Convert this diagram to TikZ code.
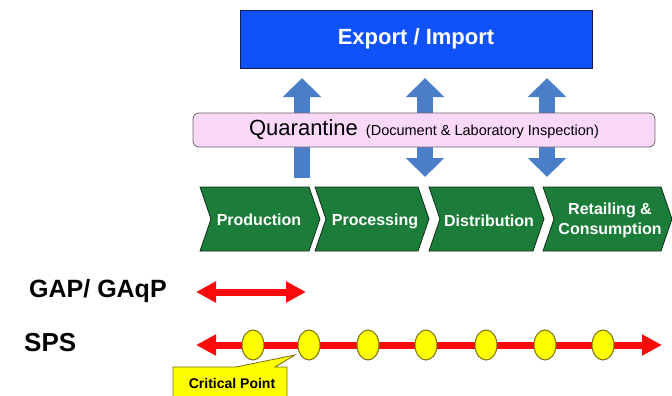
\documentclass[tikz,border=0pt]{standalone}
\usepackage{fontspec}
\setmainfont{Liberation Sans}
\usetikzlibrary{arrows.meta,shapes.geometric}
\definecolor{exblue}{RGB}{16,82,250}
\definecolor{exborder}{RGB}{20,30,90}
\definecolor{arblue}{RGB}{74,126,200}
\definecolor{qpink}{RGB}{250,216,248}
\definecolor{qborder}{RGB}{110,100,110}
\definecolor{chgreen}{RGB}{28,125,58}
\definecolor{chborder}{RGB}{20,45,25}
\definecolor{cpyellow}{RGB}{255,255,0}
\definecolor{cpborder}{RGB}{120,110,20}
\definecolor{redline}{RGB}{250,10,10}
\tikzset{
  bluetip/.tip={Triangle[width=37pt,length=19pt]},
  redtip/.tip={Triangle[width=20pt,length=20pt]},
  bluearrow/.style={draw=arblue, line width=16pt},
  redarrow/.style={draw=redline, line width=7pt},
  chev/.style={fill=chgreen, draw=chborder, line width=0.8pt},
  chevtext/.style={text=white, font=\bfseries\fontsize{16}{20}\selectfont, align=center},
  ccp/.style={ellipse, fill=cpyellow, draw=cpborder, line width=1pt, minimum width=22pt, minimum height=30pt, inner sep=0pt},
  rowlabel/.style={font=\bfseries\fontsize{25}{28}\selectfont, anchor=west, inner sep=0pt}
}
\begin{document}
\begin{tikzpicture}[x=1pt,y=-1pt]
\useasboundingbox (0,0) rectangle (672,396);
\fill[white] (0,0) rectangle (672,396);

% Export / Import box
\node[draw=exborder, fill=exblue, line width=0.8pt, minimum width=352pt, minimum height=58pt, inner sep=0pt,
      text=white, font=\bfseries\fontsize{22}{26}\selectfont] (export) at (416,39) {Export / Import};

% anchor points for arrows
\coordinate (a1b) at (302,178); \coordinate (a1t) at (302,78);
\coordinate (a2b) at (425,177); \coordinate (a2t) at (425,78);
\coordinate (a3b) at (547,177); \coordinate (a3t) at (547,78);

\draw[bluearrow, -bluetip] (a1b) -- (a1t);
\draw[bluearrow, bluetip-bluetip] (a2b) -- (a2t);
\draw[bluearrow, bluetip-bluetip] (a3b) -- (a3t);

% Quarantine box
\node[draw=qborder, fill=qpink, rounded corners=6pt, line width=0.8pt, minimum width=462pt, minimum height=34pt, inner sep=0pt]
  (quar) at (424,130) {\fontsize{22}{24}\selectfont Quarantine\hspace{8pt}\fontsize{14.5}{16}\selectfont(Document \& Laboratory Inspection)};

% Chevrons
\fill[chev] (200,187) -- (309,187) -- (320,219) -- (309,251) -- (200,251) -- (211,219) -- cycle;
\fill[chev] (315,187) -- (418,187) -- (429,219) -- (418,251) -- (315,251) -- (326,219) -- cycle;
\fill[chev] (429,187) -- (533,187) -- (544,219) -- (533,251) -- (429,251) -- (440,219) -- cycle;
\fill[chev] (543,187) -- (661,187) -- (672,219) -- (661,251) -- (543,251) -- (554,219) -- cycle;
\node[chevtext] (prod) at (259,220) {Production};
\node[chevtext] (proc) at (375,221) {Processing};
\node[chevtext] (dist) at (489,221) {Distribution};
\node[chevtext] (retail) at (610,220) {Retailing \&\\Consumption};

% GAP row
\node[rowlabel] (gap) at (29,291) {GAP/ GAqP};
\coordinate (g1) at (196,292); \coordinate (g2) at (306,292);
\draw[redarrow, redtip-redtip] (g1) -- (g2);

% SPS row
\node[rowlabel, font=\bfseries\fontsize{26}{28}\selectfont] (sps) at (24,343) {SPS};
\coordinate (s1) at (196,345); \coordinate (s2) at (662,345);
\draw[redarrow, redtip-redtip] (s1) -- (s2);
\foreach \i/\x in {1/253,2/309,3/368,4/426,5/486,6/545,7/603}{
  \node[ccp] (c\i) at (\x,345) {};
}

% Critical point callout
\fill[fill=cpyellow, draw=cpborder, line width=0.8pt]
  (173,367) -- (236,367) -- (295,355) -- (275,367) -- (287,367) -- (287,402) -- (173,402) -- cycle;
\node[font=\bfseries\fontsize{14}{16}\selectfont, inner sep=0pt] (crit) at (232,383) {Critical Point};
\end{tikzpicture}
\end{document}
